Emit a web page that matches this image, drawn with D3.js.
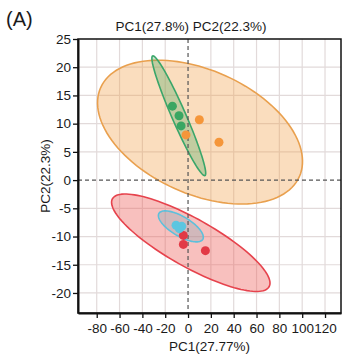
<!DOCTYPE html>
<html>
<head>
<meta charset="UTF-8">
<script src="https://cdn.jsdelivr.net/npm/d3@7"></script>
<style>
  body { margin: 0; background: #fff; }
  text { font-family: "Liberation Sans", Arial, sans-serif; fill: #1a1a1a; }
  .grid line { stroke: #e2dada; stroke-width: 1.2px; }
</style>
</head>
<body>
<script>
// tick values
var xTicks = [-80, -60, -40, -20, 0, 20, 40, 60, 80, 100, 120];
var yTicks = [-20, -15, -10, -5, 0, 5, 10, 15, 20, 25];

// groups: points (PC1, PC2)
var greenPts = [[-13.7, 13.1], [-7.9, 11.4], [-6.1, 9.6]];
var orangePts = [[9.9, 10.7], [-1.8, 8.0], [27.1, 6.7]];
var redPts = [[-4.1, -9.8], [-4.1, -11.4], [15.2, -12.5]];
var bluePts = [[-10.5, -8.0], [-5.5, -8.2], [-7.6, -8.6]];

// confidence ellipses: centre, semi-axis vectors (data units)
var orangeEll = { c: [10.5, 8.5], u: [87.0, -7.9], v: [-22.2, -10.0] };
var greenEll  = { c: [-8.1, 11.4], u: [22.9, -10.6], v: [5.6, 0.5] };
var redEll    = { c: [2.4, -11.1], u: [68.6, -7.8], v: [-10.5, -3.7] };
var blueEll   = { c: [-6.3, -8.2], u: [19.2, -2.3], v: [-4.3, -1.5] };

var W = 345, H = 357;
var margin = { top: 39, right: 4, bottom: 44, left: 78 };

var svg = d3.select("body").append("svg").attr("width", W).attr("height", H);

var x = d3.scaleLinear().domain([-96.4, 134]).range([margin.left, W - margin.right]);
var y = d3.scaleLinear().domain([-23.55, 25]).range([H - margin.bottom, margin.top]);

// grid
var grid = svg.append("g").attr("class", "grid");
grid.selectAll(".vx").data(xTicks.filter(function(d){ return d !== 0; })).enter().append("line")
  .attr("x1", function(d){ return x(d); }).attr("x2", function(d){ return x(d); })
  .attr("y1", y.range()[1]).attr("y2", y.range()[0]);
grid.selectAll(".hy").data(yTicks.filter(function(d){ return d !== 0 && d !== 25; })).enter().append("line")
  .attr("y1", function(d){ return y(d); }).attr("y2", function(d){ return y(d); })
  .attr("x1", x.range()[0]).attr("x2", x.range()[1]);

// ellipses
var line = d3.line().curve(d3.curveLinearClosed);
function ellPath(e) {
  var pts = d3.range(0, 120).map(function(i) {
    var t = i / 120 * 2 * Math.PI;
    var dx = e.c[0] + Math.cos(t) * e.u[0] + Math.sin(t) * e.v[0];
    var dy = e.c[1] + Math.cos(t) * e.u[1] + Math.sin(t) * e.v[1];
    return [x(dx), y(dy)];
  });
  return line(pts);
}

var groups = [
  { ell: orangeEll, pts: orangePts, stroke: "#e9a04e", fill: "#f2a24c", op: 0.36, dot: "#f5963a" },
  { ell: greenEll, pts: greenPts, stroke: "#3aa66a", fill: "#4aa860", op: 0.32, dot: "#3aa662" },
  { ell: redEll, pts: redPts, stroke: "#e6434d", fill: "#ec5a55", op: 0.38, dot: "#e23a46" },
  { ell: blueEll, pts: bluePts, stroke: "#5cc0dc", fill: "#8aa8b8", op: 0.35, dot: "#5cc6e0" }
];

groups.forEach(function(g) {
  svg.append("path").attr("d", ellPath(g.ell))
    .attr("fill", g.fill).attr("fill-opacity", g.op)
    .attr("stroke", g.stroke).attr("stroke-width", 1.6);
});

// zero lines
svg.append("line").attr("x1", x(0)).attr("x2", x(0)).attr("y1", y.range()[1]).attr("y2", y.range()[0])
  .attr("stroke", "#555").attr("stroke-width", 1.2).attr("stroke-dasharray", "4,3");
svg.append("line").attr("y1", y(0)).attr("y2", y(0)).attr("x1", x.range()[0]).attr("x2", x.range()[1])
  .attr("stroke", "#555").attr("stroke-width", 1.2).attr("stroke-dasharray", "4,3");

groups.forEach(function(g) {
  svg.selectAll(null).data(g.pts).enter().append("circle")
    .attr("cx", function(d){ return x(d[0]); }).attr("cy", function(d){ return y(d[1]); })
    .attr("r", 4.5).attr("fill", g.dot);
});

// frame
svg.append("rect").attr("x", x.range()[0]).attr("y", y.range()[1])
  .attr("width", x.range()[1] - x.range()[0]).attr("height", y.range()[0] - y.range()[1])
  .attr("fill", "none").attr("stroke", "#111").attr("stroke-width", 1.5);

// axes
var fmt = function(d) { return String(d); };
var xAxis = svg.append("g").attr("transform", "translate(0," + y.range()[0] + ")")
  .call(d3.axisBottom(x).tickValues(xTicks).tickFormat(fmt).tickSize(5).tickPadding(2).tickSizeOuter(0));
var yAxis = svg.append("g").attr("transform", "translate(" + x.range()[0] + ",0)")
  .call(d3.axisLeft(y).tickValues(yTicks).tickFormat(fmt).tickSize(5).tickPadding(2).tickSizeOuter(0));
[xAxis, yAxis].forEach(function(a) {
  a.select(".domain").attr("stroke", "#111").attr("stroke-width", 2);
  a.selectAll(".tick line").attr("stroke", "#111").attr("stroke-width", 1.3);
  a.selectAll(".tick text").attr("font-size", 13.5).attr("font-family", "Liberation Sans, Arial, sans-serif").attr("fill", "#1a1a1a");
});
xAxis.selectAll(".tick text").attr("dy", "0.95em");

// labels
svg.append("text").attr("x", 6).attr("y", 26).attr("font-size", 20).text("(A)");
svg.append("text").attr("x", 191).attr("y", 31).attr("text-anchor", "middle").attr("font-size", 13.5)
  .text("PC1(27.8%) PC2(22.3%)");
svg.append("text").attr("x", (x.range()[0] + x.range()[1]) / 2).attr("y", 351).attr("text-anchor", "middle")
  .attr("font-size", 13.5).text("PC1(27.77%)");
svg.append("text").attr("transform", "translate(50," + ((y.range()[0] + y.range()[1]) / 2) + ") rotate(-90)")
  .attr("text-anchor", "middle").attr("font-size", 13.5).text("PC2(22.3%)");
</script>
</body>
</html>
